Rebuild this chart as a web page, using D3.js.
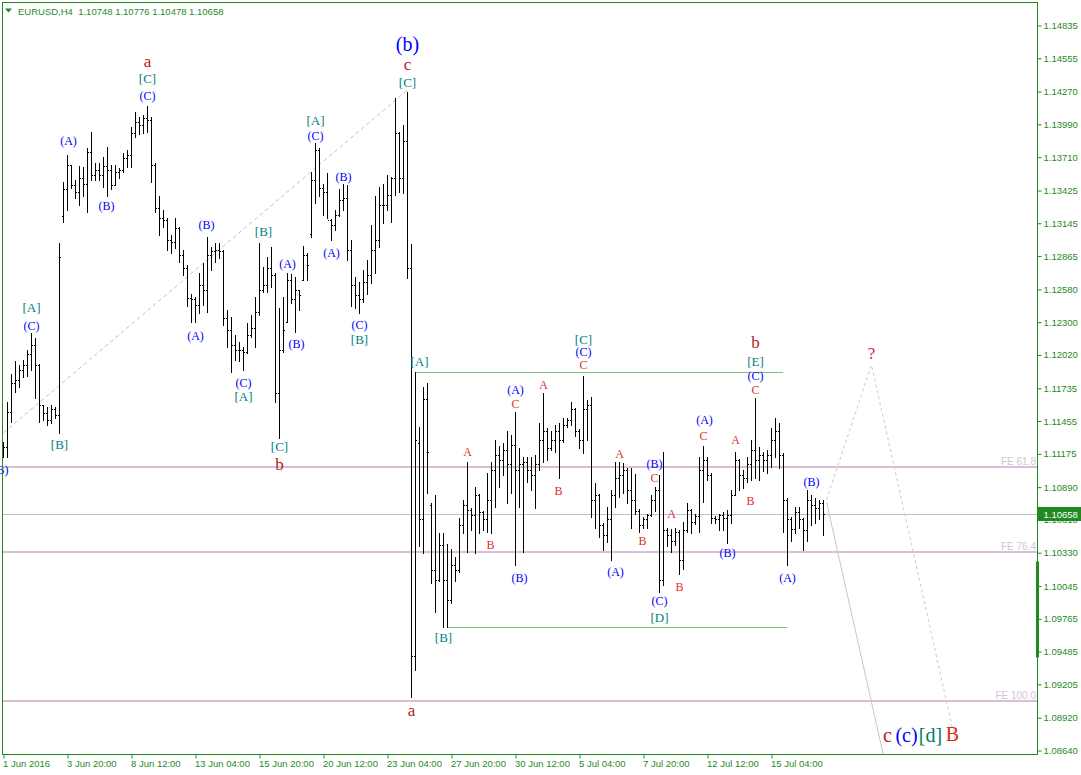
<!DOCTYPE html>
<html><head><meta charset="utf-8">
<script src="https://cdn.jsdelivr.net/npm/d3@7"></script>
<style>
html,body{margin:0;padding:0;background:#fff;}
svg{display:block;}
</style></head><body>
<svg id="chart" width="1081" height="775"></svg>
<script>
// ---- data (EURUSD H4, bar 0 = 1 Jun 2016 04:00) ----
const opens = [1.1116,1.1123,1.1153,1.1178,1.1180,1.1189,1.1193,1.1202,1.1210,1.1193,1.1159,1.1152,1.1146,1.1155,1.1150,1.1320,1.1343,1.1364,1.1347,1.1341,1.1353,1.1348,1.1375,1.1355,1.1360,1.1355,1.1363,1.1360,1.1347,1.1358,1.1360,1.1370,1.1372,1.1391,1.1401,1.1398,1.1404,1.1402,1.1364,1.1327,1.1319,1.1317,1.1300,1.1298,1.1310,1.1287,1.1276,1.1250,1.1249,1.1244,1.1261,1.1257,1.1287,1.1290,1.1291,1.1290,1.1233,1.1223,1.1210,1.1206,1.1206,1.1204,1.1219,1.1225,1.1238,1.1257,1.1261,1.1276,1.1270,1.1169,1.1206,1.1230,1.1266,1.1249,1.1257,1.1266,1.1287,1.1305,1.1351,1.1377,1.1344,1.1341,1.1317,1.1313,1.1321,1.1334,1.1336,1.1291,1.1261,1.1253,1.1249,1.1264,1.1270,1.1291,1.1300,1.1330,1.1330,1.1338,1.1353,1.1391,1.1353,1.1384,1.1276,1.0944,1.1126,1.1061,1.1164,1.1073,1.1018,1.1009,1.1039,1.1009,1.0992,1.1022,1.1018,1.1056,1.1073,1.1069,1.1065,1.1082,1.1067,1.1061,1.1078,1.1103,1.1116,1.1112,1.1120,1.1108,1.1125,1.1103,1.1108,1.1110,1.1103,1.1099,1.1108,1.1129,1.1137,1.1122,1.1129,1.1137,1.1129,1.1142,1.1146,1.1155,1.1137,1.1129,1.1155,1.1159,1.1078,1.1082,1.1056,1.1048,1.1061,1.1082,1.1096,1.1099,1.1103,1.1086,1.1078,1.1068,1.1056,1.1061,1.1065,1.1078,1.1086,1.1009,1.1052,1.1048,1.1043,1.1050,1.1026,1.1052,1.1069,1.1059,1.1064,1.1103,1.1112,1.1099,1.1062,1.1061,1.1065,1.1062,1.1065,1.1082,1.1112,1.1099,1.1096,1.1108,1.1120,1.1112,1.1116,1.1112,1.1116,1.1129,1.1137,1.1116,1.1078,1.1061,1.1053,1.1067,1.1061,1.1052,1.1078,1.1073,1.1071,1.10748];
const highs = [1.1127,1.1161,1.1185,1.1196,1.1193,1.1197,1.1206,1.1220,1.1216,1.1194,1.1159,1.1157,1.1159,1.1157,1.1297,1.1349,1.1372,1.1364,1.1351,1.1363,1.1362,1.1378,1.1392,1.1366,1.1366,1.1371,1.1379,1.1364,1.1364,1.1361,1.1374,1.1377,1.1396,1.1409,1.1405,1.1407,1.1414,1.1405,1.1366,1.1337,1.1325,1.1319,1.1304,1.1319,1.1311,1.1291,1.1278,1.1254,1.1251,1.1272,1.1280,1.1302,1.1294,1.1297,1.1297,1.1291,1.1240,1.1234,1.1219,1.1213,1.1208,1.1229,1.1236,1.1251,1.1297,1.1277,1.1285,1.1294,1.1272,1.1242,1.1251,1.1272,1.1271,1.1268,1.1257,1.1295,1.1289,1.1358,1.1383,1.1378,1.1348,1.1357,1.1318,1.1325,1.1343,1.1348,1.1347,1.1300,1.1268,1.1264,1.1274,1.1283,1.1313,1.1337,1.1345,1.1348,1.1355,1.1354,1.1421,1.1392,1.1398,1.1426,1.1296,1.1187,1.1140,1.1174,1.1178,1.1075,1.1082,1.1049,1.1049,1.1040,1.1036,1.1029,1.1062,1.1078,1.1110,1.1071,1.1089,1.1083,1.1068,1.1101,1.1110,1.1129,1.1124,1.1126,1.1137,1.1133,1.1153,1.1122,1.1114,1.1114,1.1114,1.1116,1.1143,1.1169,1.1139,1.1137,1.1142,1.1143,1.1148,1.1148,1.1161,1.1156,1.1138,1.1184,1.1163,1.1166,1.1092,1.1083,1.1058,1.1072,1.1086,1.1110,1.1110,1.1109,1.1105,1.1105,1.1100,1.1070,1.1063,1.1066,1.1082,1.1089,1.1099,1.1119,1.1054,1.1053,1.1054,1.1052,1.1059,1.1075,1.1070,1.1066,1.1114,1.1124,1.1114,1.1101,1.1064,1.1066,1.1067,1.1069,1.1086,1.1119,1.1113,1.1103,1.1114,1.1129,1.1165,1.1123,1.1119,1.1120,1.1139,1.1148,1.1143,1.1118,1.1079,1.1063,1.1072,1.1072,1.1062,1.1086,1.1082,1.1079,1.1078,1.10776];
const lows = [1.1114,1.1114,1.1144,1.1170,1.1174,1.1183,1.1184,1.1189,1.1165,1.1144,1.1146,1.1142,1.1143,1.1148,1.1135,1.1315,1.1325,1.1344,1.1336,1.1330,1.1337,1.1324,1.1351,1.1351,1.1351,1.1345,1.1337,1.1343,1.1347,1.1353,1.1358,1.1362,1.1362,1.1388,1.1390,1.1391,1.1392,1.1349,1.1324,1.1304,1.1311,1.1291,1.1289,1.1293,1.1281,1.1270,1.1243,1.1230,1.1230,1.1237,1.1244,1.1238,1.1274,1.1281,1.1284,1.1227,1.1208,1.1187,1.1197,1.1196,1.1189,1.1203,1.1217,1.1208,1.1236,1.1255,1.1255,1.1260,1.1161,1.1131,1.1204,1.1230,1.1246,1.1221,1.1240,1.1266,1.1266,1.1302,1.1331,1.1337,1.1321,1.1319,1.1300,1.1308,1.1320,1.1325,1.1283,1.1243,1.1242,1.1237,1.1247,1.1254,1.1263,1.1272,1.1294,1.1314,1.1325,1.1315,1.1338,1.1341,1.1340,1.1267,1.0909,1.0932,1.1038,1.1032,1.1084,1.1007,1.0982,1.1008,1.0969,1.0969,1.0990,1.1008,1.1016,1.1049,1.1033,1.1052,1.1032,1.1049,1.1052,1.1050,1.1049,1.1072,1.1089,1.1099,1.1075,1.1084,1.1022,1.1072,1.1033,1.1093,1.1086,1.1071,1.1103,1.1110,1.1112,1.1120,1.1119,1.1096,1.1127,1.1140,1.1142,1.1132,1.1122,1.1118,1.1129,1.1063,1.1054,1.1046,1.1035,1.1042,1.1026,1.1072,1.1080,1.1084,1.1075,1.1054,1.1066,1.1050,1.1054,1.1054,1.1064,1.1068,1.0999,1.1005,1.1038,1.1033,1.1039,1.1014,1.1019,1.1050,1.1049,1.1057,1.1050,1.1076,1.1095,1.1058,1.1058,1.1052,1.1052,1.1041,1.1058,1.1082,1.1086,1.1088,1.1093,1.1095,1.1096,1.1095,1.1102,1.1101,1.1106,1.1114,1.1105,1.1050,1.1022,1.1043,1.1049,1.1054,1.1035,1.1043,1.1056,1.1058,1.1061,1.10478];
const closes = [1.1123,1.1153,1.1178,1.1180,1.1189,1.1193,1.1202,1.1210,1.1193,1.1159,1.1152,1.1146,1.1155,1.1150,1.1285,1.1343,1.1364,1.1347,1.1341,1.1353,1.1348,1.1375,1.1355,1.1360,1.1355,1.1363,1.1360,1.1347,1.1358,1.1360,1.1370,1.1372,1.1391,1.1401,1.1398,1.1404,1.1402,1.1364,1.1327,1.1319,1.1317,1.1300,1.1298,1.1310,1.1287,1.1276,1.1250,1.1249,1.1244,1.1261,1.1257,1.1287,1.1290,1.1291,1.1290,1.1233,1.1223,1.1210,1.1206,1.1206,1.1204,1.1219,1.1225,1.1238,1.1257,1.1261,1.1276,1.1270,1.1169,1.1206,1.1223,1.1266,1.1249,1.1257,1.1253,1.1287,1.1278,1.1351,1.1377,1.1344,1.1341,1.1317,1.1313,1.1321,1.1334,1.1336,1.1291,1.1261,1.1253,1.1249,1.1264,1.1270,1.1291,1.1300,1.1330,1.1330,1.1338,1.1353,1.1391,1.1353,1.1384,1.1276,1.0944,1.1129,1.1061,1.1164,1.1119,1.1018,1.1009,1.1039,1.1009,1.0992,1.1022,1.1018,1.1056,1.1073,1.1069,1.1065,1.1082,1.1067,1.1061,1.1078,1.1103,1.1116,1.1112,1.1120,1.1108,1.1125,1.1103,1.1108,1.1110,1.1103,1.1099,1.1108,1.1129,1.1137,1.1122,1.1129,1.1137,1.1129,1.1142,1.1146,1.1155,1.1137,1.1129,1.1155,1.1159,1.1078,1.1082,1.1056,1.1048,1.1061,1.1082,1.1096,1.1099,1.1103,1.1086,1.1078,1.1068,1.1056,1.1061,1.1065,1.1078,1.1086,1.1009,1.1052,1.1048,1.1043,1.1050,1.1026,1.1052,1.1069,1.1059,1.1064,1.1103,1.1112,1.1099,1.1062,1.1061,1.1065,1.1062,1.1065,1.1082,1.1112,1.1099,1.1096,1.1108,1.1120,1.1112,1.1116,1.1112,1.1116,1.1129,1.1137,1.1116,1.1078,1.1061,1.1053,1.1067,1.1061,1.1052,1.1078,1.1073,1.1071,1.1075,1.10658];

const priceTicks = [1.14835,1.14555,1.14270,1.13990,1.13710,1.13425,1.13145,1.12865,1.12580,1.12300,1.12020,1.11735,1.11455,1.11175,1.10890,1.10610,1.10330,1.10045,1.09765,1.09485,1.09205,1.08920,1.08640];
const timeTickBars = [0,16,32,48,64,80,96,112,128,144,160,176,192];
const timeTickLabels = ["1 Jun 2016","3 Jun 20:00","8 Jun 12:00","13 Jun 04:00","15 Jun 20:00","20 Jun 12:00","23 Jun 04:00","27 Jun 20:00","30 Jun 12:00","5 Jul 04:00","7 Jul 20:00","12 Jul 12:00","15 Jul 04:00"];
const titleText = "EURUSD,H4  1.10748 1.10776 1.10478 1.10658";
const lastPrice = 1.10658;

const feLevels = [1.1106, 1.1033, 1.0906];
const feNames = ["FE 61.8", "FE 76.4", "FE 100.0"];
// range lines: [fromBar, toBar, price]
const rangeLines = [[103.25, 195, 1.1187], [111, 196, 1.0969]];
const dashedTrend = [[0, 1.1135], [101, 1.1428]];
const projDashed = [[205.75, 1.1078], [217, 1.1193], [238, 1.0871]];
const projSolid = [[205.75, 1.1076], [221, 1.0844]];
const axisMark = [1.1025, 1.0943];

// wave labels: [text, bar, price, style]
const waveLabels = [
 ["(B)",-0.75,1.1103,"blue"],["[A]",7,1.1242,"teal"],["(C)",7,1.1226,"blue"],["[B]",14,1.1125,"teal"],
 ["(A)",16.25,1.1384,"blue"],["(B)",25.75,1.1329,"blue"],["a",36,1.1452,"wave"],["[C]",36,1.1438,"teal"],
 ["(C)",36,1.1423,"blue"],["(B)",50.75,1.1313,"blue"],["(A)",48,1.1218,"blue"],["(C)",60,1.1178,"blue"],
 ["[A]",60,1.1166,"teal"],["[B]",65,1.1307,"teal"],["(A)",71,1.1279,"blue"],["(B)",73.25,1.1211,"blue"],
 ["[C]",69,1.1123,"teal"],["b",69,1.1108,"wave"],["[A]",78,1.1402,"teal"],["(C)",78,1.1389,"blue"],
 ["(B)",85,1.1354,"blue"],["(A)",82,1.1289,"blue"],["(C)",89,1.1227,"blue"],["[B]",89,1.1215,"teal"],
 ["(b)",101,1.1467,"big"],["c",101,1.1450,"wave"],["[C]",101,1.1434,"teal"],["[A]",104,1.1196,"teal"],
 ["a",102,1.0898,"wave"],["[B]",110,1.0960,"teal"],["A",116,1.1119,"red"],["B",121.75,1.1039,"red"],
 ["(A)",128,1.1172,"blue"],["C",128,1.1160,"red"],["(B)",129,1.1011,"blue"],["A",135,1.1176,"red"],
 ["B",138.75,1.1085,"red"],["[C]",145,1.1215,"teal"],["(C)",145,1.1204,"blue"],["C",145,1.1193,"red"],
 ["A",154,1.1117,"red"],["(A)",153,1.1016,"blue"],["B",159.75,1.1043,"red"],["(B)",162.75,1.1108,"blue"],
 ["C",162.75,1.1096,"red"],["A",167,1.1066,"red"],["(C)",164,1.0991,"blue"],["[D]",164,1.0977,"teal"],
 ["B",169,1.1003,"red"],["(A)",175.25,1.1146,"blue"],["C",175,1.1132,"red"],["(B)",181,1.1032,"blue"],
 ["A",183,1.1129,"red"],["B",186.75,1.1077,"red"],["b",188,1.1212,"wave"],["[E]",188,1.1196,"teal"],
 ["(C)",188,1.1184,"blue"],["C",188,1.1172,"red"],["(A)",196,1.1011,"blue"],["(B)",202,1.1093,"blue"],
 ["?",217,1.1203,"question"],["c",221,1.0877,"waveL"],["(c)",225.75,1.0877,"blueL"],["[d]",231.75,1.0877,"tealL"],
 ["B",237.25,1.0878,"redL"]
];

// ---- styles ----
const GREEN = "#1f8a1f";
const labelStyle = {
  blue:{fill:"#0000ff", size:12}, teal:{fill:"#008080", size:13}, red:{fill:"#e0302a", size:12},
  wave:{fill:"#b22222", size:17}, big:{fill:"#0000ff", size:20}, question:{fill:"#dc143c", size:17},
  waveL:{fill:"#b22222", size:20}, blueL:{fill:"#0000ff", size:20}, tealL:{fill:"#008060", size:20}, redL:{fill:"#dd2a1a", size:20}
};

// ---- scales ----
const x = d3.scaleLinear().domain([0, 1]).range([3, 7]);
const y = d3.scaleLinear().domain([1.08640, 1.14835]).range([750, 25]);
const PL = 2.5, PT = 2.5, PR = 1037.5, PB = 754.5;

const svg = d3.select("#chart");
svg.append("rect").attr("width",1081).attr("height",775).attr("fill","#fff");
svg.append("defs").append("clipPath").attr("id","plotclip")
  .append("rect").attr("x",PL+0.5).attr("y",PT+0.5).attr("width",PR-PL-1).attr("height",PB-PT-1);
const g = svg.append("g").attr("clip-path","url(#plotclip)");
const cy = v => Math.round(y(v)) + 0.5;

// FE levels
g.selectAll("line.fe").data(feLevels).join("line").attr("class","fe")
  .attr("x1",PL).attr("x2",PR).attr("y1",d=>Math.round(y(d))).attr("y2",d=>Math.round(y(d)))
  .attr("stroke","#d8bfd8").attr("stroke-width",2);
// last price line
g.append("line").attr("x1",PL).attr("x2",PR).attr("y1",cy(lastPrice)).attr("y2",cy(lastPrice))
  .attr("stroke","#c0c0c0").attr("stroke-width",1);
// range lines
g.selectAll("line.rng").data(rangeLines).join("line").attr("class","rng")
  .attr("x1",d=>x(d[0])).attr("x2",d=>x(d[1])).attr("y1",d=>cy(d[2])).attr("y2",d=>cy(d[2]))
  .attr("stroke","#80c080").attr("stroke-width",1);
// dashed trend + projections
const lineGen = d3.line().x(d=>x(d[0])+0.5).y(d=>y(d[1]));
g.append("path").attr("d",lineGen(dashedTrend)).attr("fill","none").attr("stroke","#c0c0c0").attr("stroke-dasharray","4,3");
g.append("path").attr("d",lineGen(projDashed)).attr("fill","none").attr("stroke","#c8c8c8").attr("stroke-dasharray","3,3");
g.append("path").attr("d",lineGen(projSolid)).attr("fill","none").attr("stroke","#c8c8c8");

// OHLC bars
const bars = g.append("g").attr("fill","#000");
opens.forEach((o,i)=>{
  const xi = Math.round(x(i));
  const yh = Math.round(y(highs[i])), yl = Math.round(y(lows[i]));
  bars.append("rect").attr("x",xi).attr("y",yh).attr("width",1).attr("height",Math.max(1,yl-yh+1));
  bars.append("rect").attr("x",xi-1).attr("y",Math.round(y(o))).attr("width",1).attr("height",1);
  bars.append("rect").attr("x",xi+1).attr("y",Math.round(y(closes[i]))).attr("width",1).attr("height",1);
});

// FE labels
svg.selectAll("text.fe").data(feLevels).join("text").attr("class","fe")
  .attr("x",1036).attr("y",d=>Math.round(y(d))-2).attr("text-anchor","end")
  .attr("font-family","Liberation Sans, Arial, sans-serif").attr("font-size",10).attr("fill","#d8bfd8")
  .text((d,i)=>feNames[i]);

// wave labels
svg.append("g").selectAll("text").data(waveLabels).join("text")
  .attr("x",d=>x(d[1])+0.5).attr("y",d=>y(d[2]))
  .attr("text-anchor","middle").attr("dominant-baseline","central")
  .attr("font-family","Liberation Serif, 'Times New Roman', serif")
  .attr("font-size",d=>labelStyle[d[3]].size).attr("fill",d=>labelStyle[d[3]].fill)
  .text(d=>d[0]);

// frame
svg.append("rect").attr("x",PL).attr("y",PT).attr("width",PR-PL).attr("height",PB-PT)
  .attr("fill","none").attr("stroke",GREEN).attr("stroke-width",1);

// right price axis
const yAxis = d3.axisRight(y).tickValues(priceTicks).tickSize(4).tickSizeOuter(0)
  .tickFormat(d=>d.toFixed(5));
const ya = svg.append("g").attr("transform",`translate(${PR},0.5)`).call(yAxis);
ya.select(".domain").remove();
ya.selectAll(".tick line").attr("stroke",GREEN);
ya.selectAll(".tick text").attr("x",6).attr("fill",GREEN)
  .attr("font-family","Liberation Sans, Arial, sans-serif").attr("font-size",9.5);

// bottom time axis
const xAxis = d3.axisBottom(x).tickValues(timeTickBars).tickSize(4).tickSizeOuter(0)
  .tickFormat((d,i)=>timeTickLabels[i]);
const xa = svg.append("g").attr("transform",`translate(0.5,${PB})`).call(xAxis);
xa.select(".domain").remove();
xa.selectAll(".tick line").attr("stroke",GREEN);
xa.selectAll(".tick text").attr("text-anchor","start").attr("x",-1).attr("y",6).attr("fill",GREEN)
  .attr("font-family","Liberation Sans, Arial, sans-serif").attr("font-size",9.5);

// axis mark (thick segment on price scale)
svg.append("rect").attr("x",PR-1.5).attr("y",y(axisMark[0])).attr("width",3)
  .attr("height",y(axisMark[1])-y(axisMark[0])).attr("fill",GREEN);

// last price box
const lpY = Math.round(y(lastPrice));
svg.append("rect").attr("x",PR).attr("y",lpY-7).attr("width",45).attr("height",14).attr("fill",GREEN);
svg.append("text").attr("x",PR+6).attr("y",lpY).attr("dominant-baseline","central")
  .attr("font-family","Liberation Sans, Arial, sans-serif").attr("font-size",9.5).attr("fill","#fff")
  .text(lastPrice.toFixed(5));

// title
svg.append("path").attr("d","M5,8.5 L12,8.5 L8.5,12.5 Z").attr("fill",GREEN);
svg.append("text").attr("x",18).attr("y",15).attr("fill",GREEN)
  .attr("font-family","Liberation Sans, Arial, sans-serif").attr("font-size",9.5)
  .attr("xml:space","preserve").style("white-space","pre").text(titleText);
</script>
</body></html>
